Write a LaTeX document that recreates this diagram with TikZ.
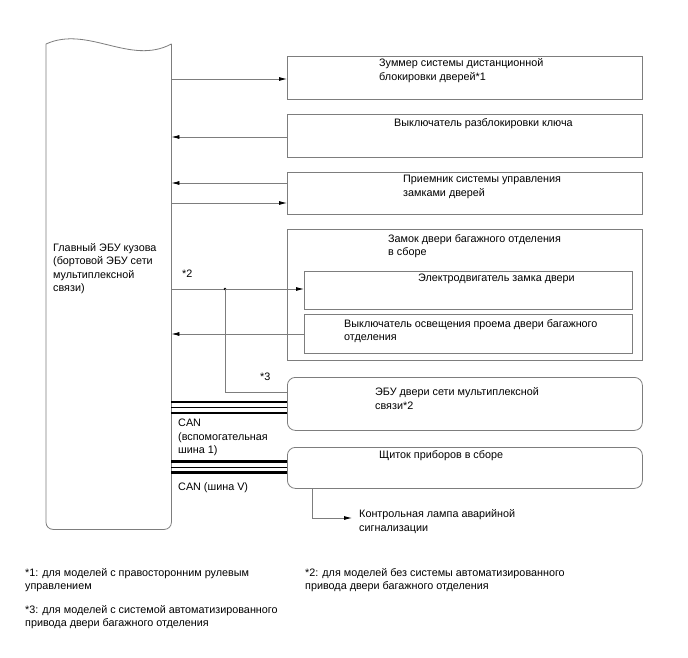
\documentclass[tikz,border=0pt]{standalone}
\usepackage{fontspec}
\setmainfont{Liberation Sans}
\usetikzlibrary{arrows.meta}
\definecolor{linecol}{RGB}{125,125,125}
\tikzset{
  box/.style={draw=linecol, line width=0.8pt, rectangle, inner sep=0pt, anchor=north west},
  rbox/.style={box, rounded corners=8pt},
  lbl/.style={anchor=base west, inner sep=0pt, align=left, font=\fontsize{10.8}{13.5}\selectfont},
  conn/.style={draw=linecol, line width=0.8pt},
  arr/.style={conn, -{Latex[length=8pt,width=4pt,color=black]}},
  thickbus/.style={draw=black, line width=2.8pt},
  thinbus/.style={draw=black, line width=0.9pt},
}
\begin{document}
\begin{tikzpicture}[x=1pt,y=-1pt]
\useasboundingbox (0,0) rectangle (688,658);
\fill[white] (0,0) rectangle (688,658);

% main ECU
\node[inner sep=0pt, minimum width=125pt, minimum height=485pt, anchor=north west] (ecu) at (46,44) {};
\draw[conn] (ecu.north west) .. controls (88,25) and (130,66) .. (ecu.north east);
\draw[conn, rounded corners=7pt] (ecu.north west) -- (ecu.south west) -- (ecu.south east) -- (ecu.north east);
\node[lbl] (tecu) at (53,291.5) {Главный ЭБУ кузова\\(бортовой ЭБУ сети\\мультиплексной\\связи)};

% boxes
\node[box, minimum width=355pt, minimum height=43pt] (b1) at (287,56) {};
\node[lbl] (t1) at (379,80.5) {Зуммер системы дистанционной\\блокировки дверей*1};
\node[box, minimum width=355pt, minimum height=43pt] (b2) at (287,114) {};
\node[lbl] (t2) at (394,126.5) {Выключатель разблокировки ключа};
\node[box, minimum width=355pt, minimum height=42pt] (b3) at (287,172) {};
\node[lbl] (t3) at (403,196) {Приемник системы управления\\замками дверей};
\node[box, minimum width=355pt, minimum height=131pt] (b4) at (287,229) {};
\node[lbl] (t4) at (388,255.5) {Замок двери багажного отделения\\в сборе};
\node[box, minimum width=328pt, minimum height=38pt] (b4a) at (304,271) {};
\node[lbl] (t4a) at (418,281.5) {Электродвигатель замка двери};
\node[box, minimum width=328pt, minimum height=39pt] (b4b) at (304,314) {};
\node[lbl] (t4b) at (344,340.5) {Выключатель освещения проема двери багажного\\отделения};
\node[rbox, minimum width=355pt, minimum height=53pt] (b5) at (287,377) {};
\node[lbl] (t5) at (375,409) {ЭБУ двери сети мультиплексной\\связи*2};
\node[rbox, minimum width=355pt, minimum height=41pt] (b6) at (287,447) {};
\node[lbl] (t6) at (379,458.5) {Щиток приборов в сборе};

% y levels
\coordinate (y1) at (0,79);
\coordinate (y2) at (0,137);
\coordinate (y3a) at (0,183);
\coordinate (y3b) at (0,203);
\coordinate (y4a) at (0,289);
\coordinate (y4b) at (0,334);
\coordinate (y5) at (0,392);

\draw[arr] (ecu.east |- y1) -- (b1.west |- y1);
\draw[arr] (b2.west |- y2) -- (ecu.east |- y2);
\draw[arr] (b3.west |- y3a) -- (ecu.east |- y3a);
\draw[arr] (ecu.east |- y3b) -- (b3.west |- y3b);
\draw[arr] (ecu.east |- y4a) -- (b4a.west |- y4a);
\draw[arr] (b4b.west |- y4b) -- (ecu.east |- y4b);

\coordinate (j) at (225,289);
\fill (j) circle (1.3pt);
\draw[conn] (j) -- (j |- y5) -- (b5.west |- y5);
\node[lbl] (s2) at (182,277.5) {*2};
\node[lbl] (s3) at (260,380.5) {*3};

% CAN buses
\foreach \yy/\st in {402/thickbus, 407.5/thinbus, 413/thickbus, 461.5/thickbus, 467/thinbus, 472.5/thickbus}{
  \coordinate (c) at (0,\yy);
  \draw[\st] (ecu.east |- c) -- (b5.west |- c);
}
\node[lbl] (can1) at (178,453.5) {CAN\\(вспомогательная\\шина 1)};
\node[lbl] (can2) at (178,490.5) {CAN (шина V)};

% lamp
\coordinate (lampc) at (312,488);
\node[lbl] (tl) at (359,531) {Контрольная лампа аварийной\\сигнализации};
\draw[arr] (b6.south west -| lampc) -- (312,518) -- (352,518);

% footnotes
\node[lbl] (f1) at (25,589.5) {*1: для моделей с правосторонним рулевым\\управлением};
\node[lbl] (f3) at (25,626.5) {*3: для моделей с системой автоматизированного\\привода двери багажного отделения};
\node[lbl] (f2) at (305,589.5) {*2: для моделей без системы автоматизированного\\привода двери багажного отделения};
\end{tikzpicture}
\end{document}
